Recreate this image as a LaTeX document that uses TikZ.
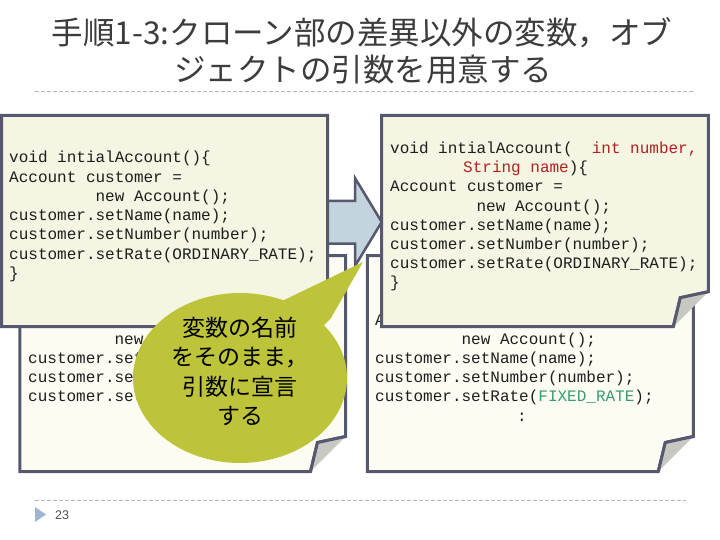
\documentclass[tikz,border=0pt]{standalone}
\usepackage{fontspec}
\usetikzlibrary{shapes.geometric}
\setmainfont{Liberation Sans}
\newfontfamily\cjk{Noto Sans CJK JP}
\newfontfamily\codefont{Liberation Mono}
\definecolor{frontfill}{RGB}{244,245,226}
\definecolor{backfill}{RGB}{253,252,243}
\definecolor{edgecol}{RGB}{85,88,110}
\definecolor{flapcol}{RGB}{200,200,194}
\definecolor{arrowfill}{RGB}{196,212,222}
\definecolor{bubblefill}{RGB}{190,196,58}
\definecolor{codered}{RGB}{178,34,34}
\definecolor{codegreen}{RGB}{58,157,107}
\definecolor{codetext}{RGB}{30,30,30}
\definecolor{rulecol}{RGB}{178,186,198}
\definecolor{markercol}{RGB}{157,181,208}
\definecolor{titlecol}{RGB}{60,60,60}
\newcommand\blanks[1]{\hspace*{#1\dimexpr 9.6pt\relax}}
\newcommand\foldbox[5]{%
  \filldraw[boxedge, fill=#5] (#1,#2) -- (#3,#2) -- (#3,{#4-35}) -- ({#3-28},{#4-29}) -- ({#3-35},#4) -- (#1,#4) -- cycle;
  \fill[flapcol] (#3,{#4-35}) -- ({#3-28},{#4-29}) -- ({#3-35},#4) -- cycle;
  \draw[boxedge] (#3,{#4-35}) -- ({#3-28},{#4-29}) -- ({#3-35},#4);
}
\tikzset{
  boxedge/.style={draw=edgecol, line width=3pt, line join=miter},
  codeline/.style={font={\codefont\fontsize{16pt}{19.2pt}\selectfont}, anchor=base west, inner sep=0pt, text=codetext},
  titletext/.style={font={\cjk\fontsize{31.5pt}{36pt}\selectfont}, text=titlecol, inner sep=0pt},
  bubbletext/.style={font={\cjk\fontsize{23pt}{29.5pt}\selectfont}, text=black, align=center, inner sep=0pt},
  rulestyle/.style={draw=rulecol, line width=0.8pt, dash pattern=on 4pt off 2pt},
}
\begin{document}
\begin{tikzpicture}[x=1pt,y=-1pt]
\useasboundingbox[fill=white] (0,0) rectangle (720,540);

% title
\node[titletext] (title1) at (362,33) {手順1-3:クローン部の差異以外の変数，オブ};
\node[titletext] (title2) at (363,70) {ジェクトの引数を用意する};
\draw[rulestyle] (35,91) -- (694,91);

% back boxes
\foldbox{19.8}{255.5}{345.5}{471.5}{backfill}
\foldbox{367.3}{255.5}{693.3}{471.5}{backfill}

% visible parts of the left back note (the rest lies under the bubble)
\node[codeline] (bl1) at (28,344) {\blanks{9}new};
\node[codeline] (bl2) at (28,363.2) {customer.set};
\node[codeline] (bl3) at (28,382.4) {customer.set};
\node[codeline] (bl4) at (28,401.6) {customer.set};

\node[codeline] (br0) at (375,325) {Account customer =};
\node[codeline] (br1) at (375,344) {\blanks{9}new Account();};
\node[codeline] (br2) at (375,363.2) {customer.setName(name);};
\node[codeline] (br3) at (375,382.4) {customer.setNumber(number);};
\node[codeline] (br4) at (375,401.6) {customer.setRate(\textcolor{codegreen}{FIXED\_RATE});};
\node[codeline] (br5) at (517,421) {:};

% arrow
\filldraw[draw=edgecol, line width=2.5pt, line join=miter, fill=arrowfill]
  (300,201) -- (355,201) -- (355,178) -- (381.7,222) -- (355,266) -- (355,243.5) -- (300,243.5) -- cycle;

% front boxes
\foldbox{1.5}{115.5}{327.5}{326.7}{frontfill}
\foldbox{381.7}{115.5}{708.3}{326.7}{frontfill}

\node[codeline] (fl1) at (9,163) {void intialAccount()\{};
\node[codeline] (fl2) at (9,182.2) {Account customer =};
\node[codeline] (fl3) at (9,201.4) {\blanks{9}new Account();};
\node[codeline] (fl4) at (9,220.6) {customer.setName(name);};
\node[codeline] (fl5) at (9,239.8) {customer.setNumber(number);};
\node[codeline] (fl6) at (9,259) {customer.setRate(ORDINARY\_RATE);};
\node[codeline] (fl7) at (9,278.2) {\}};

\node[codeline] (fr1) at (390,153.5) {void intialAccount(\blanks{2}\textcolor{codered}{int number,}};
\node[codeline] (fr2) at (463,172.7) {\textcolor{codered}{String name})\{};
\node[codeline] (fr3) at (390,191.9) {Account customer =};
\node[codeline] (fr4) at (390,211.1) {\blanks{9}new Account();};
\node[codeline] (fr5) at (390,230.3) {customer.setName(name);};
\node[codeline] (fr6) at (390,249.5) {customer.setNumber(number);};
\node[codeline] (fr7) at (390,268.7) {customer.setRate(ORDINARY\_RATE);};
\node[codeline] (fr8) at (390,287.9) {\}};

% speech bubble
\node[ellipse, fill=bubblefill, minimum width=214pt, minimum height=170pt, inner sep=0pt] (bubble) at (240,378) {};
\fill[bubblefill] (280,302) -- (363,262) -- (331,318) -- (305,345) -- cycle;
\node[bubbletext] (bubtxt) at (240,371.5) {変数の名前\\をそのまま，\\引数に宣言\\する};

% footer
\draw[rulestyle] (35,500) -- (686,500);
\fill[markercol] (35,507) -- (46,514.5) -- (35,522) -- cycle;
\node[anchor=west, inner sep=0pt, font={\fontsize{12.5pt}{15pt}\selectfont}, text=black!70] (pagenum) at (55,515) {23};
\end{tikzpicture}
\end{document}
